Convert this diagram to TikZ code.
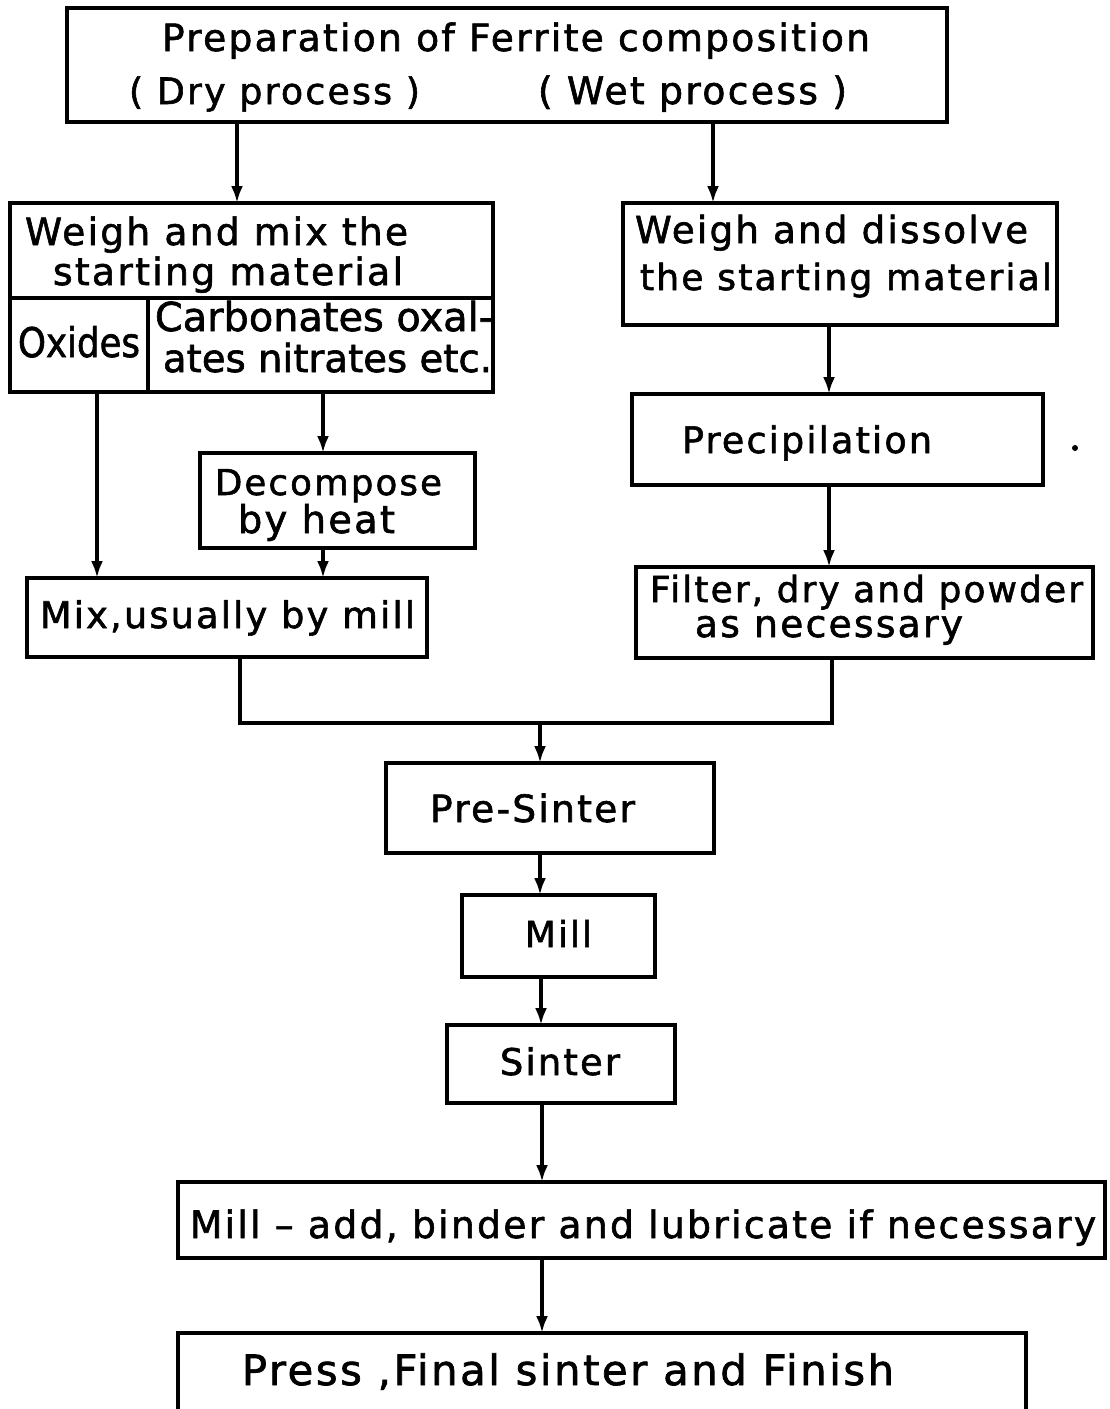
\documentclass[tikz,border=0pt]{standalone}
\usepackage{fontspec}
\setmainfont{DejaVu Sans}[LetterSpace=6,FakeBold=1.6]
\newfontfamily\tightfont{DejaVu Sans}[LetterSpace=0,FakeBold=1.6]
\usepackage{graphicx}
\usetikzlibrary{arrows.meta}
\newcommand{\fitw}[2]{\resizebox{#1pt}{!}{#2}}
\newcommand{\bx}[5]{\node[box,minimum width={#4pt-#2pt},minimum height={#5pt-#3pt}] (#1) at ({(#2+#4)/2},{(#3+#5)/2}) {};}
\newcommand{\tl}[5]{\node[tx] (#1) at ({(#2+#3)/2},#4) {\fitw{\the\numexpr#3-#2\relax}{#5}};}
\begin{document}
\begin{tikzpicture}[x=1pt,y=-1pt,
  box/.style={draw,line width=3.4pt,inner sep=0pt,outer sep=0pt},
  ln/.style={line width=3.4pt},
  arr/.style={line width=3.4pt,-{Latex[length=17pt,width=12pt]}},
  tx/.style={anchor=base,inner sep=0pt}]
\useasboundingbox (0,0) rectangle (1110,1409);
\clip (0,0) rectangle (1110,1409);
% boxes
\bx{top}{67}{8}{947}{122}
\bx{wm}{10}{203}{493}{392}
\bx{wd}{623}{203}{1057}{325}
\bx{dec}{200}{453}{475}{548}
\bx{mix}{27}{578}{427}{657}
\bx{pre}{632}{394}{1043}{485}
\bx{fil}{636}{567}{1093}{658}
\bx{ps}{386}{763}{714}{853}
\bx{mill}{462}{895}{655}{977}
\bx{sin}{447}{1025}{675}{1103}
\bx{madd}{178}{1182}{1105}{1258}
\bx{press}{178}{1333}{1026}{1460}
% dividers inside weigh-and-mix box
\coordinate (dv) at (148,298);
\draw[ln] (wm.west |- dv) -- (wm.east |- dv);
\draw[ln] (dv) -- (dv |- wm.south);
% x positions of connectors
\coordinate (xa) at (237,0);
\coordinate (xb) at (713,0);
\coordinate (xc) at (97,0);
\coordinate (xd) at (323,0);
\coordinate (xe) at (829,0);
\coordinate (xf) at (240,0);
\coordinate (xg) at (832,0);
\coordinate (jn) at (540,723);
\coordinate (xh) at (541,0);
\coordinate (xi) at (542,0);
% connectors
\draw[arr] (top.south -| xa) -- (wm.north -| xa);
\draw[arr] (top.south -| xb) -- (wd.north -| xb);
\draw[arr] (wm.south -| xc) -- (mix.north -| xc);
\draw[arr] (wm.south -| xd) -- (dec.north -| xd);
\draw[arr] (dec.south -| xd) -- (mix.north -| xd);
\draw[arr] (wd.south -| xe) -- (pre.north -| xe);
\draw[arr] (pre.south -| xe) -- (fil.north -| xe);
\draw[ln] (mix.south -| xf) -- (xf |- jn) -- (xg |- jn) -- (fil.south -| xg);
\draw[arr] (jn) -- (ps.north -| jn);
\draw[arr] (ps.south -| jn) -- (mill.north -| jn);
\draw[arr] (mill.south -| xh) -- (sin.north -| xh);
\draw[arr] (sin.south -| xi) -- (madd.north -| xi);
\draw[arr] (madd.south -| xi) -- (press.north -| xi);
% texts
\tl{t1}{162}{870}{51}{Preparation of Ferrite composition}
\tl{t2}{129}{420}{104}{( Dry process )}
\tl{t3}{538}{847}{104}{( Wet process )}
\tl{t4}{25}{408}{245}{Weigh and mix the}
\tl{t5}{53}{403}{285}{starting material}
\node[tx] (t6) at (79,357) {\resizebox{122pt}{31pt}{\tightfont Oxides}};
\tl{t7}{155}{493}{331}{\tightfont Carbonates oxal-}
\tl{t8}{163}{492}{372}{\tightfont ates nitrates etc.}
\tl{t9}{215}{442}{495}{Decompose}
\tl{t10}{238}{395}{533}{by heat}
\tl{t11}{40}{415}{628}{Mix,usually by mill}
\tl{t12}{635}{1028}{243}{Weigh and dissolve}
\tl{t13}{640}{1052}{290}{the starting material}
\tl{t14}{682}{932}{453}{Precipilation}
\tl{t15}{650}{1083}{602}{Filter, dry and powder}
\tl{t16}{695}{963}{637}{as necessary}
\tl{t17}{430}{635}{822}{Pre-Sinter}
\tl{t18}{525}{592}{947}{Mill}
\tl{t19}{500}{620}{1075}{Sinter}
\tl{t20}{190}{1096}{1238}{Mill – add, binder and lubricate if necessary}
\tl{t21}{242}{894}{1385}{Press ,Final sinter and Finish}
\fill (1075,448) circle (3pt);
\end{tikzpicture}
\end{document}
